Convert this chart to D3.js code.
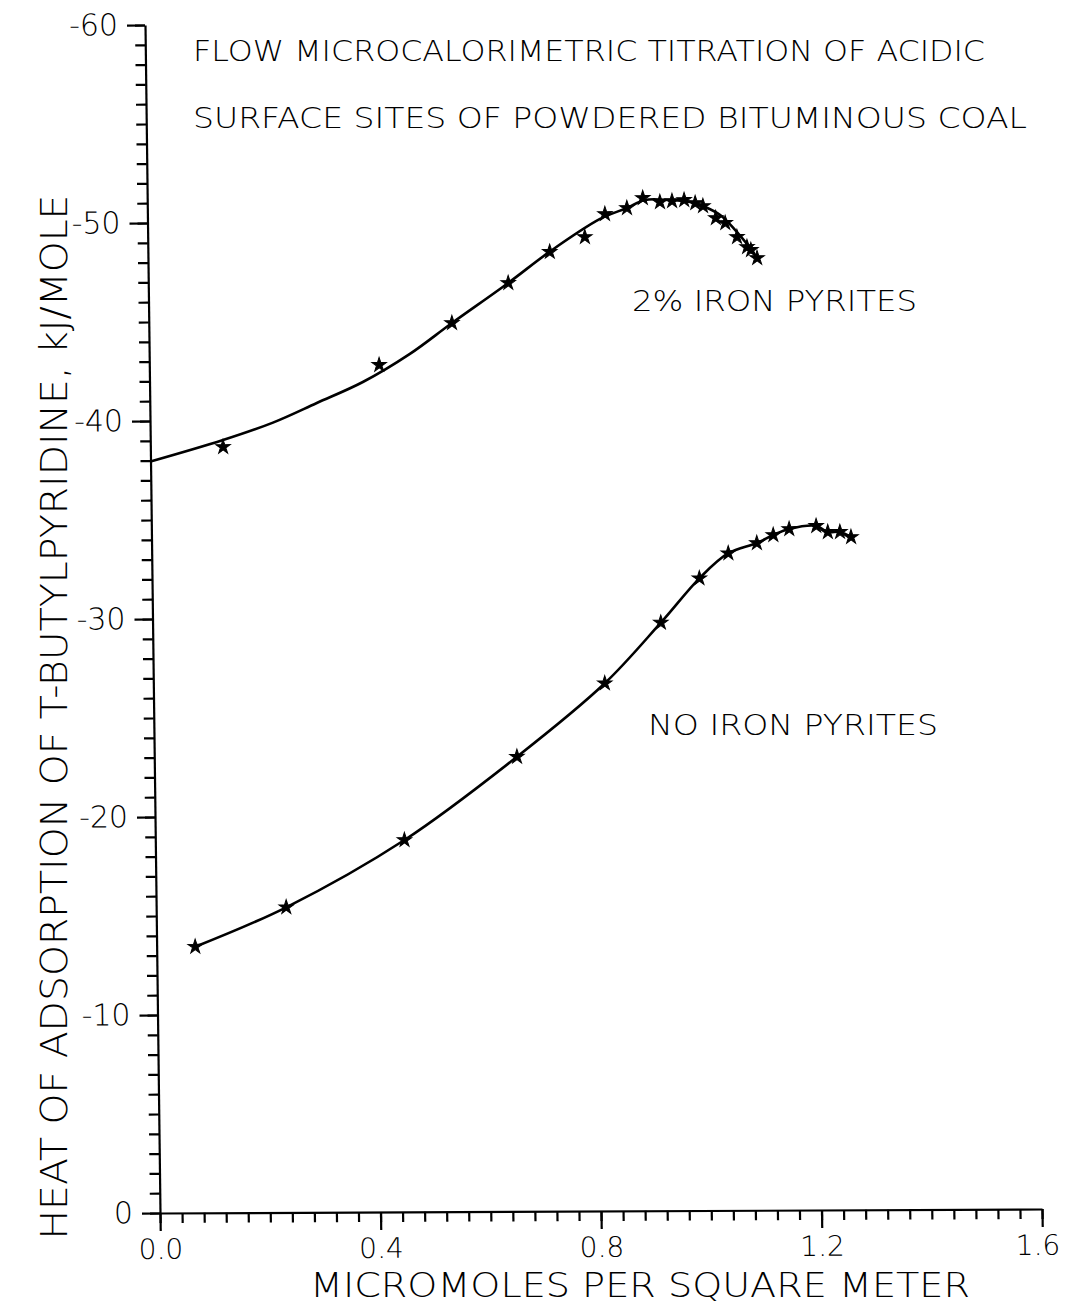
<!DOCTYPE html>
<html>
<head>
<meta charset="utf-8">
<script src="https://cdn.jsdelivr.net/npm/d3@7"></script>
<style>
  body { margin: 0; background: #fff; }
  text { font-family: "DejaVu Sans", "Liberation Sans", sans-serif; font-weight: 200; fill: #000; }
  .axis path, .axis line { stroke: #000; stroke-width: 2.2; }
</style>
</head>
<body>
<div class="chart"></div>
<script>
// 2% iron pyrites: measured points
const pyriteMarkX = [0.132, 0.417, 0.550, 0.653, 0.729, 0.793, 0.830, 0.870, 0.899, 0.930, 0.952, 0.974, 0.994, 1.008, 1.031, 1.048, 1.069, 1.087, 1.094, 1.105];
const pyriteMarkY = [-38.67, -42.78, -44.88, -46.89, -48.45, -49.19, -50.35, -50.65, -51.15, -50.94, -50.99, -51.04, -50.88, -50.73, -50.12, -49.87, -49.16, -48.65, -48.50, -48.09];
// 2% iron pyrites: drawn smooth curve
const pyriteCurveX = [0, 0.132, 0.223, 0.303, 0.387, 0.473, 0.550, 0.653, 0.729, 0.821, 0.870, 0.903, 0.948, 0.985, 1.012, 1.039, 1.066, 1.087, 1.105];
const pyriteCurveY = [-37.95, -39.02, -39.89, -40.87, -41.92, -43.33, -44.88, -46.89, -48.46, -50.10, -50.65, -51.05, -51.04, -50.94, -50.68, -50.27, -49.51, -48.80, -48.09];
// no iron pyrites
const cleanX = [0.070, 0.236, 0.452, 0.658, 0.819, 0.922, 0.993, 1.046, 1.098, 1.128, 1.157, 1.206, 1.227, 1.249, 1.269];
const cleanY = [-13.44, -15.41, -18.78, -22.96, -26.65, -29.70, -31.93, -33.19, -33.70, -34.10, -34.40, -34.55, -34.24, -34.24, -33.98];

const xMajor = [0, 0.4, 0.8, 1.2, 1.6];
const yMajor = [-60, -50, -40, -30, -20, -10, 0];

const width = 1065, height = 1304;
const plotW = 882, plotH = 1188;

const svg = d3.select(".chart").append("svg")
    .attr("width", width)
    .attr("height", height);

// the scanned plot is slightly sheared, so the plot frame gets an affine transform
const g = svg.append("g")
    .attr("transform", "matrix(1,-0.004535,0.012626,1,145,25)");

const xScale = d3.scaleLinear().domain([0, 1.6]).range([0, plotW]);
const yScale = d3.scaleLinear().domain([0, -60]).range([plotH, 0]);

// minor ticks
g.append("g")
    .attr("class", "axis")
    .attr("transform", `translate(0,${plotH})`)
    .call(d3.axisBottom(xScale).tickValues(d3.range(0, 41).map(i => i * 0.04)).tickSize(10).tickSizeOuter(0).tickFormat(""));
g.append("g")
    .attr("class", "axis")
    .call(d3.axisLeft(yScale).tickValues(d3.range(-60, 1)).tickSize(10).tickSizeOuter(0).tickFormat(""));

// major ticks + labels
const xAxis = g.append("g")
    .attr("class", "axis")
    .attr("transform", `translate(0,${plotH})`)
    .call(d3.axisBottom(xScale).tickValues(xMajor).tickSize(18).tickSizeOuter(0).tickPadding(8).tickFormat(d3.format(".1f")));
const yAxis = g.append("g")
    .attr("class", "axis")
    .call(d3.axisLeft(yScale).tickValues(yMajor).tickSize(18).tickSizeOuter(0).tickPadding(9).tickFormat(d => String(d)));
xAxis.select(".domain").remove();
yAxis.select(".domain").remove();
g.selectAll(".axis text")
    .style("font-size", "30px")
    .style("font-family", "'DejaVu Sans', sans-serif");
xAxis.selectAll("text")
    .style("font-size", "28px")
    .attr("dx", d => d === 1.6 ? -5 : 0);

// curves
const line = d3.line()
    .x(d => xScale(d[0]))
    .y(d => yScale(d[1]))
    .curve(d3.curveCatmullRom.alpha(0.5));

g.append("path")
    .datum(pyriteCurveX.map((x, i) => [x, pyriteCurveY[i]]))
    .attr("d", line)
    .attr("fill", "none")
    .attr("stroke", "#000")
    .attr("stroke-width", 2.6);

g.append("path")
    .datum(cleanX.map((x, i) => [x, cleanY[i]]))
    .attr("d", line)
    .attr("fill", "none")
    .attr("stroke", "#000")
    .attr("stroke-width", 2.6);

// markers
const star = d3.symbol().type(d3.symbolStar).size(65);
const marks = pyriteMarkX.map((x, i) => [x, pyriteMarkY[i]])
    .concat(cleanX.map((x, i) => [x, cleanY[i]]));
g.selectAll(".mark")
    .data(marks)
    .enter()
    .append("path")
    .attr("class", "mark")
    .attr("d", star)
    .attr("transform", d => `translate(${xScale(d[0])},${yScale(d[1])})`)
    .attr("fill", "#000")
    .attr("stroke", "#000")
    .attr("stroke-width", 1);

// titles and labels
const label = (txt, x, y, len, size, anchor) =>
    svg.append("text")
        .attr("x", x)
        .attr("y", y)
        .attr("text-anchor", anchor || "start")
        .attr("textLength", len)
        .attr("lengthAdjust", "spacingAndGlyphs")
        .style("font-size", size + "px")
        .text(txt);

label("FLOW MICROCALORIMETRIC TITRATION OF ACIDIC", 193, 61, 792, 29);
label("SURFACE SITES OF POWDERED BITUMINOUS COAL", 193, 128, 834, 29);
label("2% IRON PYRITES", 632, 311, 285, 29);
label("NO IRON PYRITES", 648, 735, 290, 29);
label("MICROMOLES PER SQUARE METER", 640, 1297, 660, 34, "middle");

svg.append("text")
    .attr("transform", "translate(67,717)rotate(-90)")
    .attr("text-anchor", "middle")
    .attr("textLength", 1045)
    .attr("lengthAdjust", "spacingAndGlyphs")
    .style("font-size", "37px")
    .text("HEAT OF ADSORPTION OF T-BUTYLPYRIDINE, kJ/MOLE");
</script>
</body>
</html>
